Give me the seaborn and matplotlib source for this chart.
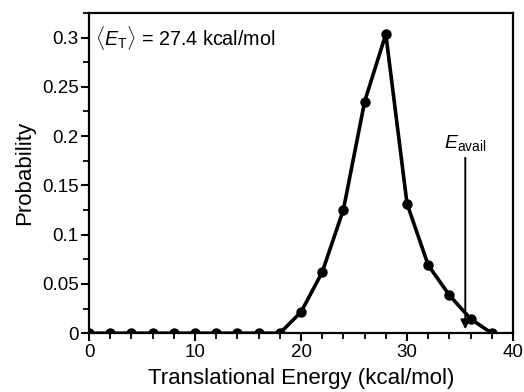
import matplotlib
matplotlib.use("Agg")
import matplotlib.pyplot as plt
import seaborn as sns
import pandas as pd
from matplotlib.ticker import MultipleLocator

# Translational energy distribution
energy = [0, 2, 4, 6, 8, 10, 12, 14, 16, 18, 20, 22, 24, 26, 28, 30, 32, 34, 36, 38]
probability = [0, 0, 0, 0, 0, 0, 0, 0, 0, 0,
               0.0215, 0.062, 0.1255, 0.235, 0.3035, 0.1315, 0.069, 0.0385, 0.0145, 0]
mean_et = 27.4
e_avail = 35.5

df = pd.DataFrame({"energy": energy, "probability": probability})

sns.set_theme(style="ticks")
plt.rcParams["font.family"] = ["Liberation Sans", "DejaVu Sans"]
plt.rcParams["mathtext.fontset"] = "custom"
plt.rcParams["mathtext.rm"] = "Liberation Sans"
plt.rcParams["mathtext.it"] = "Liberation Sans:italic"
plt.rcParams["text.color"] = "black"
plt.rcParams["axes.labelcolor"] = "black"

fig = plt.figure(figsize=(5.24, 3.92), dpi=100)
ax = fig.add_axes([0.170, 0.150, 0.809, 0.817])

sns.lineplot(data=df, x="energy", y="probability", ax=ax, color="black",
             linewidth=2.6, marker="o", markersize=7.5, markeredgewidth=0)

ax.set_xlim(0, 40)
ax.set_ylim(0, 0.325)
ax.xaxis.set_major_locator(MultipleLocator(10))
ax.xaxis.set_minor_locator(MultipleLocator(2))
ax.yaxis.set_minor_locator(MultipleLocator(0.025))
ax.set_yticks([0, 0.05, 0.1, 0.15, 0.2, 0.25, 0.3])
ax.set_yticklabels(["0", "0.05", "0.1", "0.15", "0.2", "0.25", "0.3"])

for s in ax.spines.values():
    s.set_linewidth(1.6)
    s.set_color("black")
ax.tick_params(which="major", direction="out", length=6, width=1.5,
               labelsize=13.5, colors="black", labelcolor="black", pad=1.5)
ax.tick_params(which="minor", direction="out", length=4, width=1.3, colors="black")

ax.set_xlabel("Translational Energy (kcal/mol)", fontsize=16, labelpad=5)
ax.set_ylabel("Probability", fontsize=16, labelpad=5)

ax.text(0.6, 0.300, r"$\langle E_\mathrm{T}\rangle$ = " + f"{mean_et} kcal/mol",
        fontsize=14.2, va="center", ha="left")

ax.annotate("", xy=(e_avail, 0.004), xytext=(e_avail, 0.178),
            arrowprops=dict(arrowstyle="-|>", color="black", lw=1.4,
                            mutation_scale=14, shrinkA=0, shrinkB=0))
ax.text(e_avail, 0.193, r"$E_\mathrm{avail}$", fontsize=14, ha="center", va="center")

fig.savefig("out.png", dpi=100)
